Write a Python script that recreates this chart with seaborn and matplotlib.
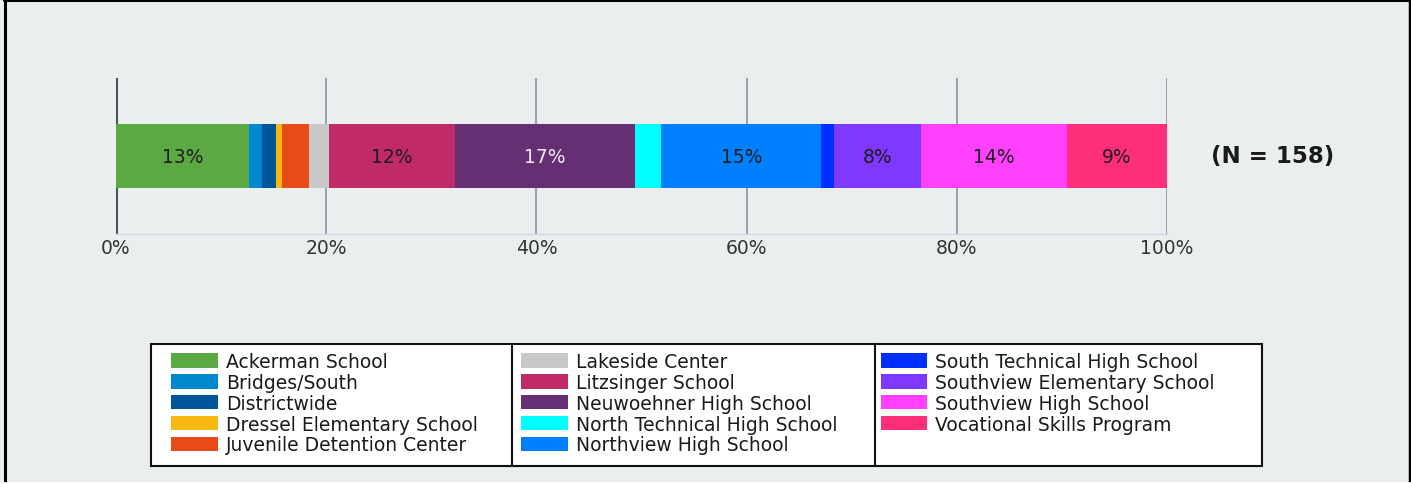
import pandas as pd
import matplotlib
matplotlib.use("Agg")
import matplotlib.pyplot as plt
import seaborn as sns
from matplotlib.patches import Patch, Rectangle
from matplotlib.lines import Line2D

schools = [
    "Ackerman School", "Bridges/South", "Districtwide", "Dressel Elementary School",
    "Juvenile Detention Center", "Lakeside Center", "Litzsinger School",
    "Neuwoehner High School", "North Technical High School", "Northview High School",
    "South Technical High School", "Southview Elementary School",
    "Southview High School", "Vocational Skills Program",
]
counts = [20, 2, 2, 1, 4, 3, 19, 27, 4, 24, 2, 13, 22, 15]
colors = [
    "#5BA942", "#0088CE", "#00549A", "#F7B90F", "#E84B17", "#C8C8C8", "#C02A66",
    "#662E73", "#00FFFF", "#0080FF", "#0030FF", "#7F38FF", "#FF40FF", "#FF2E7A",
]
total_n = 158
x_ticks = [0, 20, 40, 60, 80, 100]
x_tick_labels = ["0%", "20%", "40%", "60%", "80%", "100%"]

W, H = 1411, 485
bg = "#EAEEEF"

sns.set_theme(style="white")
plt.rcParams["font.family"] = ["DejaVu Sans"]

df = pd.DataFrame({"school": schools, "count": counts, "color": colors})
df["pct"] = df["count"] / total_n * 100
df["right"] = df["pct"].cumsum()
df["left"] = df["right"] - df["pct"]
df["group"] = "All"

fig = plt.figure(figsize=(W / 100, H / 100), dpi=100, facecolor=bg)
ax = fig.add_axes([116 / W, 1 - 235 / H, (1167 - 116) / W, (235 - 79) / H])
ax.set_facecolor("none")

# stacked bar: draw cumulative bars from the widest down so each sits on top
for _, row in df.iloc[::-1].iterrows():
    sns.barplot(x=[row["right"]], y=[row["group"]], orient="h", color=row["color"],
                saturation=1, width=0.8, edgecolor="none", linewidth=0, ax=ax)

# percent labels on the bigger segments
for _, row in df.iterrows():
    if row["pct"] >= 5:
        txt_color = "#F0EAF5" if row["school"] == "Neuwoehner High School" else "#1E1E1E"
        ax.text((row["left"] + row["right"]) / 2, 0, f"{round(row['pct'])}%",
                ha="center", va="center", fontsize=13.5, color=txt_color)

ax.set_xlim(0, 100)
ax.set_ylim(0.975, -0.975)
ax.set_xticks(x_ticks)
ax.set_xticklabels(x_tick_labels)
ax.set_yticks([])
ax.set_xlabel("")
ax.set_ylabel("")
ax.xaxis.grid(True, color="#8E9EA5", linewidth=1.3)
ax.set_axisbelow(True)
ax.axvline(0, color="#4A5557", linewidth=2.2, zorder=0.6)
for side in ["top", "left", "right"]:
    ax.spines[side].set_visible(False)
ax.spines["bottom"].set_color("#C9D9E6")
ax.spines["bottom"].set_linewidth(1)
ax.tick_params(axis="x", length=0, pad=3, labelsize=13.5, labelcolor="#333333")

fig.text(1273 / W, 1 - 157 / H, f"(N = {total_n})", fontsize=16.5, fontweight="bold",
         ha="center", va="center", color="#1A1A1A")

# legend box drawn by hand, with column separators
fig.add_artist(Rectangle((151 / W, 1 - 467 / H), (1262 - 151) / W, (467 - 345) / H,
                         transform=fig.transFigure, facecolor="white", edgecolor="#111111",
                         linewidth=1.5, zorder=4))
for sx in [512, 875]:
    fig.add_artist(Line2D([sx / W, sx / W], [1 - 345 / H, 1 - 467 / H],
                          transform=fig.transFigure, color="#111111", linewidth=1.5, zorder=4.5))

handles = [Patch(facecolor=c, edgecolor="none") for c in colors]
leg = fig.legend(handles, schools, ncol=3, loc="upper left",
                 bbox_to_anchor=(171 / W, 1 - 353 / H), frameon=False, fontsize=13.5,
                 handlelength=2.5, handleheight=0.8, handletextpad=0.43,
                 labelspacing=0.1, borderpad=0, borderaxespad=0, columnspacing=2.3)
leg.set_zorder(5)
for t in leg.get_texts():
    t.set_color("#1A1A1A")

# outer frame of the picture
fig.add_artist(Line2D([4.5 / W, 4.5 / W], [2 / H, 1], transform=fig.transFigure,
                      color="black", linewidth=2.2))
fig.add_artist(Line2D([4 / W, 1], [1 - 0.8 / H, 1 - 0.8 / H], transform=fig.transFigure,
                      color="black", linewidth=2.2))
fig.add_artist(Line2D([1409.5 / W, 1409.5 / W], [2 / H, 1], transform=fig.transFigure,
                      color="black", linewidth=2.5))
fig.add_artist(Line2D([0, 1], [0.8 / H, 0.8 / H], transform=fig.transFigure,
                      color="white", linewidth=2))

fig.savefig("out.png", dpi=100, facecolor=fig.get_facecolor())
